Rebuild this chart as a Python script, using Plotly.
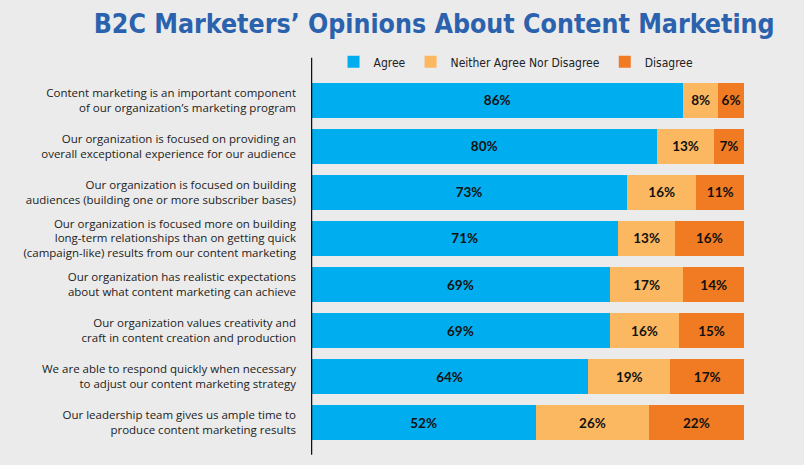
import plotly.graph_objects as go

categories = [
    "Content marketing is an important component<br>of our organization’s marketing program",
    "Our organization is focused on providing an<br>overall exceptional experience for our audience",
    "Our organization is focused on building<br>audiences (building one or more subscriber bases)",
    "Our organization is focused more on building<br>long-term relationships than on getting quick<br>(campaign-like) results from our content marketing",
    "Our organization has realistic expectations<br>about what content marketing can achieve",
    "Our organization values creativity and<br>craft in content creation and production",
    "We are able to respond quickly when necessary<br>to adjust our content marketing strategy",
    "Our leadership team gives us ample time to<br>produce content marketing results",
]
agree = [86, 80, 73, 71, 69, 69, 64, 52]
neither = [8, 13, 16, 13, 17, 16, 19, 26]
disagree = [6, 7, 11, 16, 14, 15, 17, 22]

series = [
    ("Agree", agree, "#00AEEF"),
    ("Neither Agree Nor Disagree", neither, "#FBB860"),
    ("Disagree", disagree, "#F07B22"),
]

fig = go.Figure()
for name, vals, color in series:
    fig.add_trace(go.Bar(
        y=categories, x=vals, name=name, orientation="h",
        marker=dict(color=color, line=dict(width=0)),
        text=[f"{v}%" for v in vals], textposition="inside",
        insidetextanchor="middle",
        textfont=dict(family="Lato", size=13.5, color="#111111", weight="bold"),
        hoverinfo="skip",
    ))

bg = "#EBEBEB"
cond = "'DejaVu Sans Condensed', 'Liberation Sans Narrow', Roboto, sans-serif"
fig.update_layout(
    barmode="stack",
    width=804, height=465,
    margin=dict(l=311, r=60, t=77, b=19),
    paper_bgcolor=bg, plot_bgcolor=bg,
    bargap=0.24,
    uniformtext=dict(minsize=8, mode="show"),
    title=dict(
        text="<b>B2C Marketers’ Opinions About Content Marketing</b>",
        font=dict(family=cond, size=26.5, color="#2B62AD"),
        x=0.54, xref="container", xanchor="center",
        y=0.95, yref="container", yanchor="middle",
    ),
    legend=dict(
        orientation="h", x=0.052, xanchor="left", y=1.041, yanchor="middle",
        font=dict(family=cond, size=12, color="#222222"),
        bgcolor="rgba(0,0,0,0)", traceorder="normal",
        itemwidth=30,
    ),
    xaxis=dict(range=[0, 100], visible=False, fixedrange=True),
    yaxis=dict(
        autorange="reversed", showgrid=False, zeroline=False, showline=False,
        ticks="", ticklabelstandoff=14,
        tickfont=dict(family="Open Sans", size=11.5, color="#222222"),
    ),
    shapes=[dict(
        type="line", xref="x", yref="paper", x0=0, x1=0, y0=-0.024, y1=1.052,
        line=dict(color="#111111", width=2.5),
    )],
)

fig.write_html(
    "out.html",
    config={"displayModeBar": False},
    post_script="document.body.style.margin='0';document.body.style.background='#EBEBEB';",
)
